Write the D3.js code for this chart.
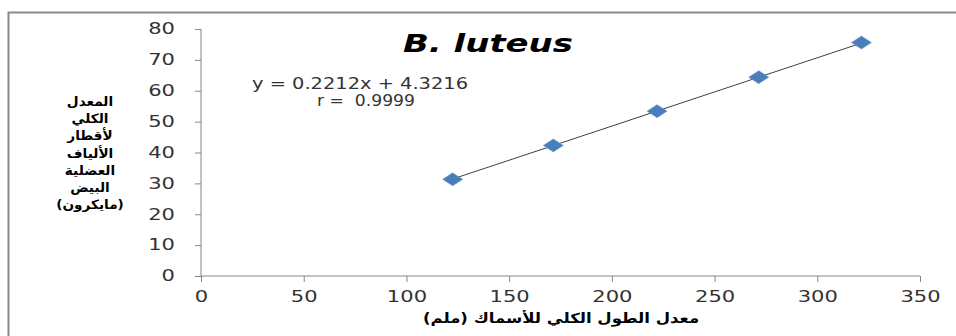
<!DOCTYPE html>
<html>
<head>
<meta charset="utf-8">
<script src="https://cdn.jsdelivr.net/npm/d3@7"></script>
<style>
    body { margin: 0; background: #fff; }
    svg text { font-family: "DejaVu Sans", Verdana, sans-serif; white-space: pre; }
</style>
</head>
<body>
<div id="chart"></div>
<script>
// data
var lengths = [122.5, 171.5, 222, 271.5, 321.5];
var diameters = [31.3, 42.3, 53.4, 64.4, 75.6];
var xTicks = [0, 50, 100, 150, 200, 250, 300, 350];
var yTicks = [0, 10, 20, 30, 40, 50, 60, 70, 80];
var slope = 0.2212, intercept = 4.3216;
var eqLines = ['y = 0.2212x + 4.3216', 'r =  0.9999'];
var title = 'B. luteus';
var xTitle = 'معدل الطول الكلي للأسماك (ملم)';
var yTitle = ['المعدل', 'الكلي', 'لأقطار', 'الألياف', 'العضلية', 'البيض', '(مايكرون)'];

var W = 956, H = 336;
var svg = d3.select('#chart').append('svg').attr('width', W).attr('height', H);

// outer chart border (goes off right/bottom edges)
svg.append('rect')
    .attr('x', 8.5).attr('y', 12.5)
    .attr('width', 980).attr('height', 360)
    .attr('fill', 'none').attr('stroke', '#8a8a8a').attr('stroke-width', 2);

var x = d3.scaleLinear().domain([0, 350]).range([201, 920]);
var y = d3.scaleLinear().domain([0, 80]).range([276, 29]);

// digits in the picture are stretched wide, so fit each label to a width
var digitW = 13.4;

var xAxis = svg.append('g').attr('transform', 'translate(0,276)')
    .call(d3.axisBottom(x).tickValues(xTicks).tickSize(6).tickPadding(9));
var yAxis = svg.append('g').attr('transform', 'translate(201,0)')
    .call(d3.axisLeft(y).tickValues(yTicks).tickSize(6).tickPadding(20));

[xAxis, yAxis].forEach(function (ax) {
    ax.selectAll('path, line').attr('stroke', '#868686').attr('stroke-width', 1);
    ax.select('.domain').attr('d', null);
    ax.selectAll('text')
        .attr('fill', '#333')
        .style('font-size', '15px')
        .attr('textLength', function (d) { return String(d).length * digitW; })
        .attr('lengthAdjust', 'spacingAndGlyphs');
});
xAxis.append('line').attr('x1', 201).attr('x2', 920).attr('stroke', '#868686');
yAxis.append('line').attr('y1', 29).attr('y2', 276).attr('stroke', '#868686');

// trend line between the first and last measured lengths
var xMin = d3.min(lengths), xMax = d3.max(lengths);
svg.append('line')
    .attr('x1', x(xMin)).attr('y1', y(slope * xMin + intercept))
    .attr('x2', x(xMax)).attr('y2', y(slope * xMax + intercept))
    .attr('stroke', '#404040').attr('stroke-width', 1);

// diamond markers, wider than tall like the original
svg.selectAll('.pt')
    .data(lengths)
    .enter().append('path')
    .attr('class', 'pt')
    .attr('d', 'M-10,0L0,-6.5L10,0L0,6.5Z')
    .attr('transform', function (d, i) { return 'translate(' + x(d) + ',' + y(diameters[i]) + ')'; })
    .attr('fill', '#4a7ebb')
    .attr('stroke', '#6f9bd1')
    .attr('stroke-width', 0.6);

// title
svg.append('text')
    .attr('x', 403).attr('y', 52)
    .attr('textLength', 170).attr('lengthAdjust', 'spacingAndGlyphs')
    .style('font-size', '25px').style('font-weight', 'bold').style('font-style', 'italic')
    .attr('fill', '#000')
    .text(title);

// equation label
svg.append('text')
    .attr('x', 252).attr('y', 89)
    .attr('textLength', 216).attr('lengthAdjust', 'spacingAndGlyphs')
    .style('font-size', '15px').attr('fill', '#333')
    .text(eqLines[0]);
svg.append('text')
    .attr('x', 317).attr('y', 106)
    .attr('textLength', 98).attr('lengthAdjust', 'spacingAndGlyphs')
    .style('font-size', '15px').attr('fill', '#333')
    .text(eqLines[1]);

// axis titles (arabic) - stretched sideways instead of textLength so the letters stay joined
svg.append('text')
    .attr('transform', 'translate(561,323) scale(1.18,1)')
    .attr('text-anchor', 'middle').attr('direction', 'rtl')
    .style('font-size', '14px').style('font-weight', 'bold')
    .attr('fill', '#000')
    .text(xTitle);

svg.append('g').selectAll('text')
    .data(yTitle)
    .enter().append('text')
    .attr('transform', function (d, i) { return 'translate(90,' + (106 + i * 17.2) + ') scale(1.05,1)'; })
    .attr('text-anchor', 'middle').attr('direction', 'rtl')
    .style('font-size', '13px').style('font-weight', 'bold')
    .attr('fill', '#000')
    .text(function (d) { return d; });
</script>
</body>
</html>
